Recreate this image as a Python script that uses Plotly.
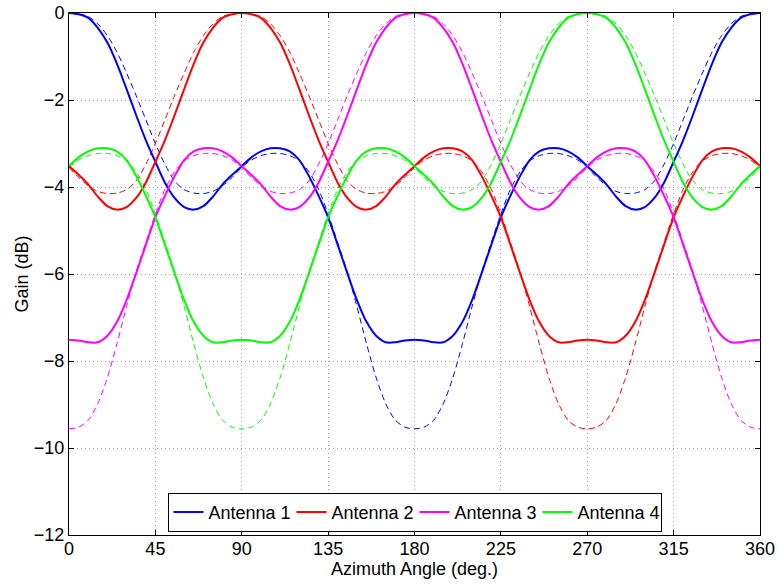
import plotly.graph_objects as go

# Azimuth angles (deg.)
azimuth = list(range(0, 361, 5))

# Solid curves (Gain, dB)
ant1 = [0.00, -0.03, -0.11, -0.34, -0.68, -1.17, -1.75, -2.35, -2.92, -3.42, -3.90, -4.25, -4.46, -4.52, -4.44, -4.22, -3.94, -3.72,
        -3.52, -3.32, -3.18, -3.11, -3.11, -3.18, -3.38, -3.75, -4.20, -4.70, -5.33, -5.98, -6.60, -7.10, -7.42, -7.57, -7.57, -7.53,
        -7.51, -7.53, -7.57, -7.57, -7.42, -7.10, -6.60, -5.98, -5.33, -4.70, -4.20, -3.75, -3.38, -3.18, -3.11, -3.11, -3.18, -3.32,
        -3.52, -3.72, -3.94, -4.22, -4.44, -4.52, -4.46, -4.25, -3.90, -3.42, -2.92, -2.35, -1.75, -1.17, -0.68, -0.34, -0.11, -0.03, 0.00]
ant2 = [-3.52, -3.72, -3.94, -4.22, -4.44, -4.52, -4.46, -4.25, -3.90, -3.42, -2.92, -2.35, -1.75, -1.17, -0.68, -0.34, -0.11, -0.03,
        0.00, -0.03, -0.11, -0.34, -0.68, -1.17, -1.75, -2.35, -2.92, -3.42, -3.90, -4.25, -4.46, -4.52, -4.44, -4.22, -3.94, -3.72,
        -3.52, -3.32, -3.18, -3.11, -3.11, -3.18, -3.38, -3.75, -4.20, -4.70, -5.33, -5.98, -6.60, -7.10, -7.42, -7.57, -7.57, -7.53,
        -7.51, -7.53, -7.57, -7.57, -7.42, -7.10, -6.60, -5.98, -5.33, -4.70, -4.20, -3.75, -3.38, -3.18, -3.11, -3.11, -3.18, -3.32, -3.52]
ant3 = [-7.51, -7.53, -7.57, -7.57, -7.42, -7.10, -6.60, -5.98, -5.33, -4.70, -4.20, -3.75, -3.38, -3.18, -3.11, -3.11, -3.18, -3.32,
        -3.52, -3.72, -3.94, -4.22, -4.44, -4.52, -4.46, -4.25, -3.90, -3.42, -2.92, -2.35, -1.75, -1.17, -0.68, -0.34, -0.11, -0.03,
        0.00, -0.03, -0.11, -0.34, -0.68, -1.17, -1.75, -2.35, -2.92, -3.42, -3.90, -4.25, -4.46, -4.52, -4.44, -4.22, -3.94, -3.72,
        -3.52, -3.32, -3.18, -3.11, -3.11, -3.18, -3.38, -3.75, -4.20, -4.70, -5.33, -5.98, -6.60, -7.10, -7.42, -7.57, -7.57, -7.53, -7.51]
ant4 = [-3.52, -3.32, -3.18, -3.11, -3.11, -3.18, -3.38, -3.75, -4.20, -4.70, -5.33, -5.98, -6.60, -7.10, -7.42, -7.57, -7.57, -7.53,
        -7.51, -7.53, -7.57, -7.57, -7.42, -7.10, -6.60, -5.98, -5.33, -4.70, -4.20, -3.75, -3.38, -3.18, -3.11, -3.11, -3.18, -3.32,
        -3.52, -3.72, -3.94, -4.22, -4.44, -4.52, -4.46, -4.25, -3.90, -3.42, -2.92, -2.35, -1.75, -1.17, -0.68, -0.34, -0.11, -0.03,
        0.00, -0.03, -0.11, -0.34, -0.68, -1.17, -1.75, -2.35, -2.92, -3.42, -3.90, -4.25, -4.46, -4.52, -4.44, -4.22, -3.94, -3.72, -3.52]

# Dashed curves (Gain, dB)
ant1_d = [0.00, -0.02, -0.08, -0.25, -0.52, -0.90, -1.38, -1.90, -2.45, -3.00, -3.48, -3.86, -4.06, -4.14, -4.15, -4.10, -3.97, -3.78,
          -3.55, -3.38, -3.28, -3.23, -3.23, -3.28, -3.40, -3.65, -4.05, -4.62, -5.28, -5.95, -6.75, -7.60, -8.38, -8.98, -9.36, -9.52,
          -9.56, -9.52, -9.36, -8.98, -8.38, -7.60, -6.75, -5.95, -5.28, -4.62, -4.05, -3.65, -3.40, -3.28, -3.23, -3.23, -3.28, -3.38,
          -3.55, -3.78, -3.97, -4.10, -4.15, -4.14, -4.06, -3.86, -3.48, -3.00, -2.45, -1.90, -1.38, -0.90, -0.52, -0.25, -0.08, -0.02, 0.00]
ant2_d = [-3.55, -3.78, -3.97, -4.10, -4.15, -4.14, -4.06, -3.86, -3.48, -3.00, -2.45, -1.90, -1.38, -0.90, -0.52, -0.25, -0.08, -0.02,
          0.00, -0.02, -0.08, -0.25, -0.52, -0.90, -1.38, -1.90, -2.45, -3.00, -3.48, -3.86, -4.06, -4.14, -4.15, -4.10, -3.97, -3.78,
          -3.55, -3.38, -3.28, -3.23, -3.23, -3.28, -3.40, -3.65, -4.05, -4.62, -5.28, -5.95, -6.75, -7.60, -8.38, -8.98, -9.36, -9.52,
          -9.56, -9.52, -9.36, -8.98, -8.38, -7.60, -6.75, -5.95, -5.28, -4.62, -4.05, -3.65, -3.40, -3.28, -3.23, -3.23, -3.28, -3.38, -3.55]
ant3_d = [-9.56, -9.52, -9.36, -8.98, -8.38, -7.60, -6.75, -5.95, -5.28, -4.62, -4.05, -3.65, -3.40, -3.28, -3.23, -3.23, -3.28, -3.38,
          -3.55, -3.78, -3.97, -4.10, -4.15, -4.14, -4.06, -3.86, -3.48, -3.00, -2.45, -1.90, -1.38, -0.90, -0.52, -0.25, -0.08, -0.02,
          0.00, -0.02, -0.08, -0.25, -0.52, -0.90, -1.38, -1.90, -2.45, -3.00, -3.48, -3.86, -4.06, -4.14, -4.15, -4.10, -3.97, -3.78,
          -3.55, -3.38, -3.28, -3.23, -3.23, -3.28, -3.40, -3.65, -4.05, -4.62, -5.28, -5.95, -6.75, -7.60, -8.38, -8.98, -9.36, -9.52, -9.56]
ant4_d = [-3.55, -3.38, -3.28, -3.23, -3.23, -3.28, -3.40, -3.65, -4.05, -4.62, -5.28, -5.95, -6.75, -7.60, -8.38, -8.98, -9.36, -9.52,
          -9.56, -9.52, -9.36, -8.98, -8.38, -7.60, -6.75, -5.95, -5.28, -4.62, -4.05, -3.65, -3.40, -3.28, -3.23, -3.23, -3.28, -3.38,
          -3.55, -3.78, -3.97, -4.10, -4.15, -4.14, -4.06, -3.86, -3.48, -3.00, -2.45, -1.90, -1.38, -0.90, -0.52, -0.25, -0.08, -0.02,
          0.00, -0.02, -0.08, -0.25, -0.52, -0.90, -1.38, -1.90, -2.45, -3.00, -3.48, -3.86, -4.06, -4.14, -4.15, -4.10, -3.97, -3.78, -3.55]

names = ["Antenna 1", "Antenna 2", "Antenna 3", "Antenna 4"]
colors = ["#0000ff", "#ff0000", "#ff00ff", "#00ff00"]
solid = [ant1, ant2, ant3, ant4]
dashed = [ant1_d, ant2_d, ant3_d, ant4_d]

x_ticks = [0, 45, 90, 135, 180, 225, 270, 315, 360]
y_ticks = [0, -2, -4, -6, -8, -10, -12]

FONT = "Liberation Sans, Arial, sans-serif"
FS = 18

fig = go.Figure()
for name, col, yd in zip(names, colors, dashed):
    fig.add_trace(go.Scatter(x=azimuth, y=yd, mode="lines", showlegend=False,
                             line=dict(color=col, width=1, dash="6px,4px", shape="spline", smoothing=0.8)))
for name, col, ys in zip(names, colors, solid):
    fig.add_trace(go.Scatter(x=azimuth, y=ys, mode="lines", name=name,
                             line=dict(color=col, width=2, shape="spline", smoothing=0.8)))

axis_common = dict(
    showline=True, linecolor="black", linewidth=1, mirror="allticks",
    ticks="inside", ticklen=5, tickcolor="black", tickwidth=1,
    showgrid=True, gridcolor="#a8a8a8", griddash="1px,3px", gridwidth=1,
    zeroline=False, automargin=False, ticklabeloverflow="allow",
    tickfont=dict(family=FONT, size=FS, color="black"),
)

fig.update_xaxes(range=[0, 360], tickvals=x_ticks, ticktext=[str(v) for v in x_ticks],
                 ticklabelstandoff=-3, **axis_common)
fig.update_yaxes(range=[-12, 0], tickvals=y_ticks,
                 title=dict(text="Gain (dB)", font=dict(family=FONT, size=FS, color="black"), standoff=0),
                 **axis_common)

# x-axis title as a positioned text label just below the tick labels
fig.add_annotation(text="Azimuth Angle (deg.)", xref="paper", yref="paper", x=0.5, y=0,
                   xanchor="center", yanchor="middle", yshift=-34, showarrow=False,
                   font=dict(family=FONT, size=FS, color="black"))

fig.update_layout(
    width=779, height=584,
    margin=dict(l=69, r=19, t=13, b=49),
    paper_bgcolor="white", plot_bgcolor="white",
    font=dict(family=FONT, size=FS, color="black"),
    legend=dict(orientation="h", x=0.5, xanchor="center", y=0.006, yanchor="bottom",
                bgcolor="white", bordercolor="black", borderwidth=1,
                font=dict(family=FONT, size=FS, color="black"),
                itemwidth=30, entrywidth=78, entrywidthmode="pixels",
                tracegroupgap=0, traceorder="normal"),
)

# remove the default page margin so the figure fills the 779x584 window exactly
fig.write_html("out.html", config={"displayModeBar": False},
               post_script="document.body.style.margin='0';")
